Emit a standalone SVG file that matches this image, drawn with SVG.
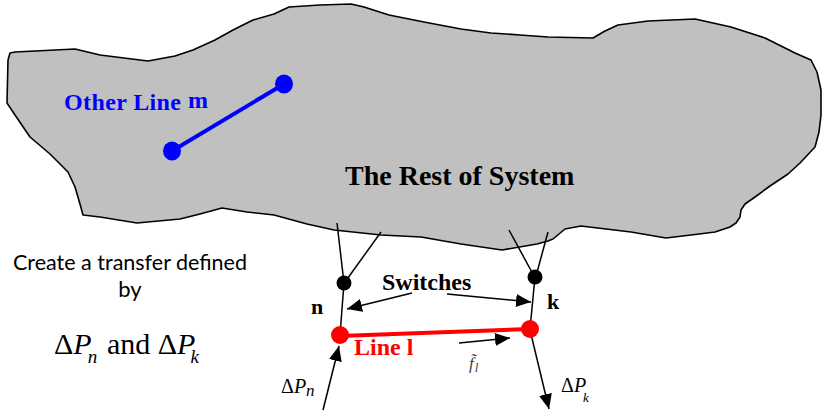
<svg xmlns="http://www.w3.org/2000/svg" width="822" height="411" viewBox="0 0 822 411">
  <style>
    .serif { font-family: "Liberation Serif", "Times New Roman", serif; }
    .bold { font-weight: bold; }
    .it { font-style: italic; }
    .wire { stroke: #000; stroke-width: 1.5; fill: none; }
    .sans { font-family: Lato, "Open Sans", "Liberation Sans", sans-serif; }
  </style>
  <defs>
    <marker id="arrow" markerUnits="userSpaceOnUse" markerWidth="16" markerHeight="14" refX="15" refY="6.5" orient="auto">
      <path d="M0,0 L15,6.5 L0,13 z" fill="#000"/>
    </marker>
  </defs>

  <g id="rest-of-system">
    <path d="M10,53 L15,52 L75,49 L100,55 L148,61 L175,56 L193,50 L215,40 L233,30 L253,20 L274,14 L289,7 L320,5 L351,4 L364,7 L389,15 L424,22 L461,29 L491,33 L520,35 L548,37 L593,38 L605,31 L618,25 L648,21 L695,19 L731,27 L765,38 L795,53 L811,60 L817,72 L821,90 L821,115 L819,132 L815,147 L800,163 L788,174 L770,186 L755,197 L745,204 L741,210 L740,217 L736,223 L730,227 L715,232 L691,235 L666,238 L631,232 L581,226 L565,229 L553,239 L548,241 L537,244 L502,250 L461,244 L421,237 L381,235 L334,230 L307,224 L274,215 L247,212 L222,208 L200,214 L180,219 L137,223 L100,217 L83,215 L80,204 L75,187 L68,172 L50,154 L30,137 L15,115 L7,103 L8,60 Z" fill="#c0c0c0" stroke="#000" stroke-width="1.6" stroke-linejoin="round"/>
    <text class="serif bold" x="345" y="185" font-size="28" fill="#000">The Rest of System</text>
  </g>

  <g id="other-line-m">
    <line x1="172" y1="151" x2="284" y2="84" stroke="#0000ff" stroke-width="4"/>
    <ellipse cx="172" cy="151" rx="9" ry="9.5" fill="#0000ff"/>
    <ellipse cx="284" cy="84" rx="9" ry="9.5" fill="#0000ff"/>
    <text class="serif bold" x="64" y="110" font-size="24" fill="#0000ff" textLength="117">Other Line</text>
    <text class="serif bold" x="188" y="108" font-size="24" fill="#0000ff">m</text>
  </g>

  <g id="connectors">
    <line class="wire" x1="337" y1="223" x2="344" y2="283"/>
    <line class="wire" x1="381" y1="232" x2="345" y2="282"/>
    <line class="wire" x1="344" y1="283" x2="340" y2="335"/>
    <line class="wire" x1="509" y1="230" x2="534" y2="276"/>
    <line class="wire" x1="548" y1="232" x2="536" y2="276"/>
    <line class="wire" x1="535" y1="277" x2="530" y2="329"/>
    <line class="wire" x1="323" y1="410" x2="339" y2="346" marker-end="url(#arrow)"/>
    <line class="wire" x1="530" y1="330" x2="549" y2="409" marker-end="url(#arrow)"/>
    <line class="wire" x1="412" y1="293" x2="347" y2="309" marker-end="url(#arrow)"/>
    <line class="wire" x1="447" y1="294" x2="531" y2="302" marker-end="url(#arrow)"/>
    <line class="wire" x1="459" y1="343" x2="510" y2="338" marker-end="url(#arrow)"/>
  </g>

  <g id="line-l">
    <line x1="340" y1="336" x2="530" y2="329" stroke="#ff0000" stroke-width="4"/>
    <text class="serif bold" x="354" y="355" font-size="24" fill="#ff0000">Line l</text>
  </g>

  <g id="node-n">
    <circle cx="344" cy="283" r="7.5" fill="#000"/>
    <circle cx="340" cy="335" r="9" fill="#ff0000"/>
    <text class="serif bold" x="311" y="314" font-size="22" fill="#000">n</text>
  </g>

  <g id="node-k">
    <circle cx="535" cy="277" r="7.5" fill="#000"/>
    <circle cx="530" cy="329" r="9" fill="#ff0000"/>
    <text class="serif bold" x="547" y="309" font-size="22" fill="#000">k</text>
  </g>

  <g id="labels">
    <text class="serif bold" x="382" y="290" font-size="24" fill="#000">Switches</text>
    <text class="serif it" x="469" y="369" font-size="17" fill="#404040">f&#x303;<tspan font-size="13" dx="1" dy="3">l</tspan></text>
    <text class="serif" x="281" y="393" font-size="20" fill="#000">Δ<tspan class="it">P</tspan><tspan class="it" font-size="17" dy="3">n</tspan></text>
    <text class="serif" x="561" y="392" font-size="20" fill="#000">Δ<tspan class="it">P</tspan><tspan class="it" font-size="13" dx="-3" dy="10">k</tspan></text>
    <text class="sans" x="130" y="270" font-size="22" text-anchor="middle" fill="#000" textLength="234" lengthAdjust="spacingAndGlyphs">Create a transfer defined</text>
    <text class="sans" x="130" y="297" font-size="22" text-anchor="middle" fill="#000">by</text>
    <text class="serif" x="54" y="354" font-size="30" fill="#000">Δ<tspan class="it">P</tspan><tspan class="it" font-size="19" dx="-4" dy="9">n</tspan><tspan x="107" y="354">and Δ</tspan><tspan class="it">P</tspan><tspan class="it" font-size="19" dx="-5" dy="9">k</tspan></text>
  </g>
</svg>
